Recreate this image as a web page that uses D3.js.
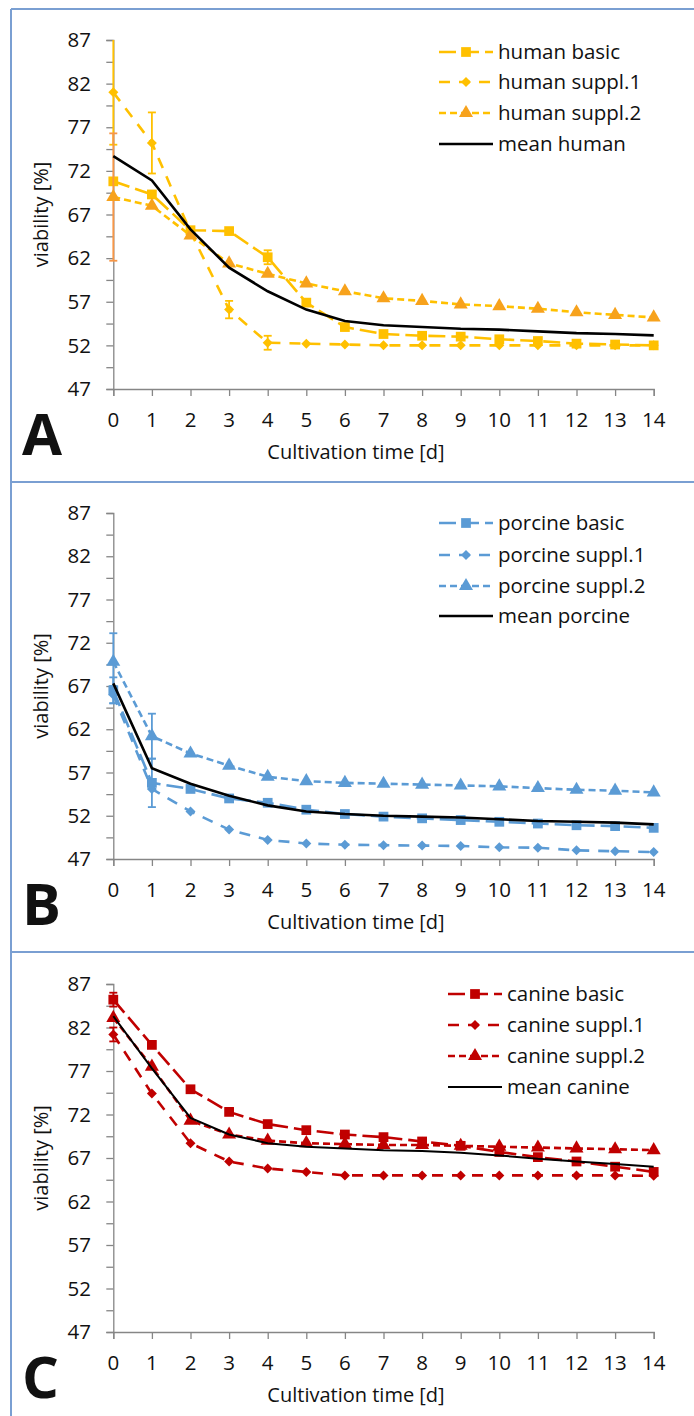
<!DOCTYPE html>
<html>
<head>
<meta charset="utf-8">
<script src="https://cdn.jsdelivr.net/npm/d3@7"></script>
<style>
  body { margin: 0; background: #fff; }
  text { font-family: "Open Sans", sans-serif; fill: #111; }
</style>
</head>
<body>
<div id="chart"></div>
<script>
// data (viability in %)
var days = [0, 1, 2, 3, 4, 5, 6, 7, 8, 9, 10, 11, 12, 13, 14];
var yTicks = [47, 52, 57, 62, 67, 72, 77, 82, 87];

var humanBasic  = [70.8, 69.3, 65.2, 65.1, 62.1, 56.9, 54.1, 53.3, 53.1, 53.0, 52.7, 52.5, 52.2, 52.1, 52.0];
var humanSuppl1 = [81.0, 75.2, 65.0, 56.1, 52.3, 52.2, 52.1, 52.0, 52.0, 52.0, 52.0, 52.0, 52.0, 52.0, 52.0];
var humanSuppl2 = [69.0, 68.0, 64.6, 61.4, 60.2, 59.1, 58.2, 57.4, 57.1, 56.7, 56.5, 56.2, 55.8, 55.5, 55.2];
var humanMean   = [73.7, 70.9, 65.3, 60.9, 58.2, 56.1, 54.8, 54.3, 54.1, 53.9, 53.8, 53.6, 53.4, 53.3, 53.15];
var humanBasicErr  = [0, 0, 0, 0, 0.8, 0, 0, 0, 0, 0, 0, 0, 0, 0, 0];
var humanSuppl1Err = [6.0, 3.5, 0, 1.0, 0.8, 0, 0, 0, 0, 0, 0, 0, 0, 0, 0];
var humanSuppl2Err = [7.3, 0, 0, 0, 0, 0, 0, 0, 0, 0, 0, 0, 0, 0, 0];

var porcineBasic  = [66.5, 55.8, 55.1, 54.0, 53.5, 52.7, 52.2, 51.9, 51.7, 51.5, 51.3, 51.1, 50.9, 50.8, 50.6];
var porcineSuppl1 = [66.0, 55.1, 52.5, 50.4, 49.2, 48.8, 48.65, 48.6, 48.55, 48.5, 48.35, 48.3, 48.0, 47.9, 47.8];
var porcineSuppl2 = [69.8, 61.2, 59.2, 57.8, 56.5, 56.0, 55.8, 55.7, 55.6, 55.5, 55.4, 55.2, 55.0, 54.9, 54.7];
var porcineMean   = [67.3, 57.5, 55.7, 54.3, 53.2, 52.5, 52.2, 52.0, 51.9, 51.8, 51.6, 51.4, 51.3, 51.2, 51.0];
var porcineBasicErr  = [1.5, 2.8, 0, 0, 0, 0, 0, 0, 0, 0, 0, 0, 0, 0, 0];
var porcineSuppl1Err = [1.0, 0, 0, 0, 0, 0, 0, 0, 0, 0, 0, 0, 0, 0, 0];
var porcineSuppl2Err = [3.3, 2.6, 0, 0, 0, 0, 0, 0, 0, 0, 0, 0, 0, 0, 0];

var canineBasic  = [85.2, 80.0, 74.9, 72.3, 70.9, 70.2, 69.7, 69.4, 68.9, 68.4, 67.7, 67.1, 66.6, 66.0, 65.4];
var canineSuppl1 = [81.2, 74.4, 68.7, 66.6, 65.8, 65.4, 65.0, 65.0, 65.0, 65.0, 65.0, 65.0, 65.0, 65.0, 64.95];
var canineSuppl2 = [83.1, 77.5, 71.3, 69.7, 69.0, 68.7, 68.6, 68.5, 68.5, 68.4, 68.3, 68.2, 68.1, 68.0, 67.9];
var canineMean   = [83.3, 77.3, 71.6, 69.7, 68.7, 68.3, 68.1, 67.9, 67.8, 67.6, 67.3, 66.9, 66.6, 66.3, 66.0];
var canineBasicErr  = [0.8, 0, 0, 0, 0, 0, 0, 0, 0, 0, 0, 0, 0, 0, 0];
var canineSuppl1Err = [0.8, 0, 0, 0, 0, 0, 0, 0, 0, 0, 0, 0, 0, 0, 0];
var canineSuppl2Err = [0, 0, 0, 0, 0, 0, 0, 0, 0, 0, 0, 0, 0, 0, 0];

var svgWidth = 694, svgHeight = 1416;
var svg = d3.select("#chart").append("svg")
  .attr("width", svgWidth)
  .attr("height", svgHeight);

// panel frames
var frameColor = "#7a9fd2";
svg.append("line").attr("x1", 11).attr("x2", 11).attr("y1", 9).attr("y2", svgHeight)
  .attr("stroke", frameColor).attr("stroke-width", 2);
[9, 482, 952].forEach(function(y) {
  svg.append("line").attr("x1", 11).attr("x2", svgWidth).attr("y1", y).attr("y2", y)
    .attr("stroke", frameColor).attr("stroke-width", 2);
});

var xScale = d3.scaleLinear().domain([0, 14]).range([113.3, 653.7]);

var dashes = ["17,6", "11,9", "7,4"];
var shapes = [d3.symbolSquare, d3.symbolSquare, d3.symbolTriangle];
var shapeSizes = [95, 50, 85];
var shapeRot = [0, 45, 0];

var panels = [
  { letter: "A", top: 40, bottom: 389, color: "#ffc000", markColor: ["#ffc000", "#ffc000", "#f7a21c"],
    errColor: ["#ffc000", "#ffc000", "#f79646"],
    names: ["human basic", "human suppl.1", "human suppl.2", "mean human"],
    series: [humanBasic, humanSuppl1, humanSuppl2], errs: [humanBasicErr, humanSuppl1Err, humanSuppl2Err],
    mean: humanMean, meanWidth: 2.6, legX: 439, legY: [52, 82, 113, 144] },
  { letter: "B", top: 513, bottom: 859, color: "#5b9bd5", markColor: ["#5b9bd5", "#5b9bd5", "#5b9bd5"],
    errColor: ["#5b9bd5", "#5b9bd5", "#5b9bd5"],
    names: ["porcine basic", "porcine suppl.1", "porcine suppl.2", "mean porcine"],
    series: [porcineBasic, porcineSuppl1, porcineSuppl2], errs: [porcineBasicErr, porcineSuppl1Err, porcineSuppl2Err],
    mean: porcineMean, meanWidth: 2.6, legX: 439, legY: [523, 555, 586, 616] },
  { letter: "C", top: 984, bottom: 1332, color: "#c00000", markColor: ["#c00000", "#c00000", "#c00000"],
    errColor: ["#c00000", "#c00000", "#c00000"],
    names: ["canine basic", "canine suppl.1", "canine suppl.2", "mean canine"],
    series: [canineBasic, canineSuppl1, canineSuppl2], errs: [canineBasicErr, canineSuppl1Err, canineSuppl2Err],
    mean: canineMean, meanWidth: 2, legX: 448, legY: [994, 1025, 1056, 1087] }
];

panels.forEach(function(p) {
  var yScale = d3.scaleLinear().domain([47, 87]).range([p.bottom, p.top]);
  var g = svg.append("g");

  // y axis with minor ticks
  var leftAxis = d3.axisLeft(yScale).tickValues(d3.range(47, 87.1, 2.5))
    .tickSize(7).tickFormat("");
  var yAxis = g.append("g").attr("transform", "translate(113.3,0)").call(leftAxis);
  g.selectAll(".ylab").data(yTicks).enter().append("text")
    .attr("x", 91).attr("y", function(d) { return yScale(d); })
    .attr("dy", "0.35em").attr("text-anchor", "end")
    .style("font-size", "20.5px").text(function(d) { return d; });

  var bottomAxis = d3.axisBottom(xScale).tickValues(days).tickSize(7).tickFormat("");
  var xAxis = g.append("g").attr("transform", "translate(0," + p.bottom + ")").call(bottomAxis);
  [xAxis, yAxis].forEach(function(a) {
    a.select(".domain").attr("stroke", "#868686").attr("stroke-width", 1.3);
    a.selectAll(".tick line").attr("stroke", "#868686").attr("stroke-width", 1.3);
  });
  g.selectAll(".xlab").data(days).enter().append("text")
    .attr("x", function(d) { return xScale(d); }).attr("y", p.bottom + 31)
    .attr("dy", "0.35em").attr("text-anchor", "middle")
    .style("font-size", "20.5px").text(function(d) { return d; });

  g.append("text").attr("x", 356).attr("y", p.bottom + 63).attr("dy", "0.35em")
    .attr("text-anchor", "middle").style("font-size", "20px").text("Cultivation time [d]");
  g.append("text").attr("transform", "translate(41," + (p.top + p.bottom) / 2 + ") rotate(-90)")
    .attr("dy", "0.35em").attr("text-anchor", "middle").style("font-size", "20px").text("viability [%]");

  g.append("text").attr("x", 22).attr("y", p.bottom + 66)
    .style("font-size", "58px").style("font-weight", 700).text(p.letter);

  var line = d3.line().x(function(d, i) { return xScale(days[i]); }).y(function(d) { return yScale(d); });

  p.series.forEach(function(s, k) {
    // error bars
    var eb = g.append("g").attr("stroke", p.errColor[k]).attr("stroke-width", 1.8);
    days.forEach(function(d, i) {
      var e = p.errs[k][i];
      if (!e) return;
      var x = xScale(d);
      eb.append("line").attr("x1", x).attr("x2", x).attr("y1", yScale(s[i] - e)).attr("y2", yScale(s[i] + e));
      [s[i] - e, s[i] + e].forEach(function(v) {
        if (v >= 87) return;
        eb.append("line").attr("x1", x - 4).attr("x2", x + 4).attr("y1", yScale(v)).attr("y2", yScale(v));
      });
    });
    g.append("path").datum(s).attr("d", line).attr("fill", "none")
      .attr("stroke", p.color).attr("stroke-width", 2.6).attr("stroke-dasharray", dashes[k]);
    g.selectAll(".m" + k).data(s).enter().append("path")
      .attr("transform", function(d, i) {
        return "translate(" + xScale(days[i]) + "," + yScale(d) + ") rotate(" + shapeRot[k] + ")";
      })
      .attr("d", d3.symbol().type(shapes[k]).size(shapeSizes[k]))
      .attr("fill", p.markColor[k]);
  });

  g.append("path").datum(p.mean).attr("d", line).attr("fill", "none")
    .attr("stroke", "#000").attr("stroke-width", p.meanWidth);

  // legend
  p.names.forEach(function(name, k) {
    var ly = p.legY[k];
    var lg = g.append("g");
    if (k < 3) {
      lg.append("line").attr("x1", p.legX).attr("x2", p.legX + 54).attr("y1", ly).attr("y2", ly)
        .attr("stroke", p.color).attr("stroke-width", 2.6).attr("stroke-dasharray", dashes[k]);
      lg.append("path").attr("transform", "translate(" + (p.legX + 27) + "," + ly + ") rotate(" + shapeRot[k] + ")")
        .attr("d", d3.symbol().type(shapes[k]).size(shapeSizes[k])).attr("fill", p.markColor[k]);
    } else {
      lg.append("line").attr("x1", p.legX).attr("x2", p.legX + 54).attr("y1", ly).attr("y2", ly)
        .attr("stroke", "#000").attr("stroke-width", p.meanWidth);
    }
    lg.append("text").attr("x", p.legX + 59).attr("y", ly).attr("dy", "0.35em")
      .style("font-size", "20.5px").text(name);
  });
});
</script>
</body>
</html>
